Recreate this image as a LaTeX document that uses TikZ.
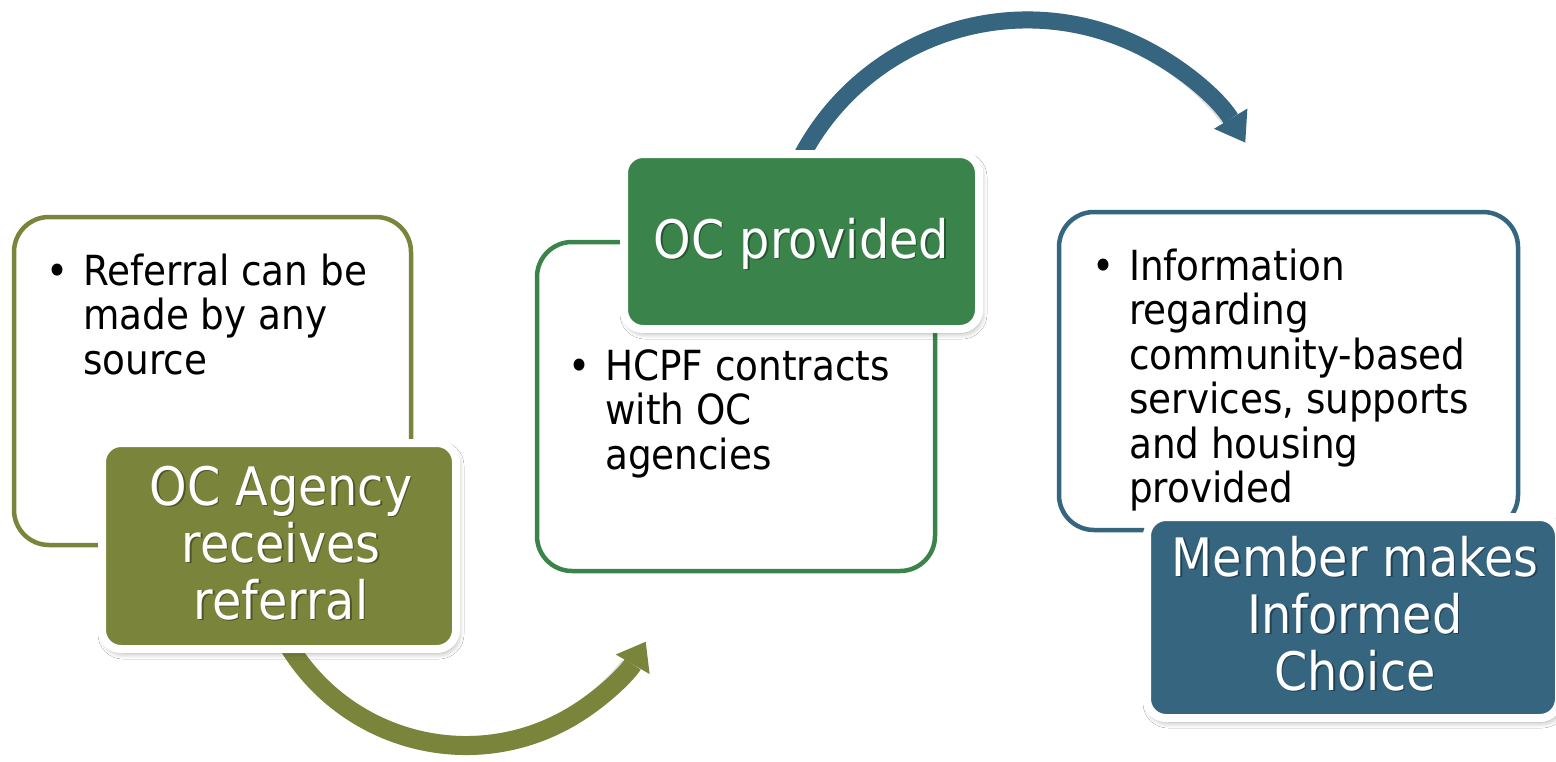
\documentclass[tikz,border=0pt]{standalone}
\usepackage{fontspec}
\setmainfont{DejaVu Sans Condensed}
\usetikzlibrary{arrows.meta,shadows.blur}

\definecolor{ocOlive}{HTML}{7B843B}
\definecolor{ocGreen}{HTML}{3A844C}
\definecolor{ocBlue}{HTML}{35657F}

% stacked lines: left aligned with a bullet column, or centred
\newcommand\ocleft[1]{\vtop{\halign{##\hfil&##\hfil\cr#1\crcr}}}
\newcommand\occenter[1]{\vtop{\halign{\hfil##\hfil\cr#1\crcr}}}
\newcommand\ocdot{\makebox[37pt][l]{•}}

\begin{document}
\begin{tikzpicture}[x=1pt,y=1pt,
  card/.style={draw, line width=4.5pt, fill=white, rounded corners=35pt, inner sep=0pt},
  tag/.style={draw=white, line width=8pt, rounded corners=19pt, inner sep=0pt,
    blur shadow={shadow xshift=2pt, shadow yshift=-4pt, shadow blur radius=6pt,
                 shadow opacity=35, shadow blur steps=8}},
  bodytext/.style={anchor=base west, inner sep=0pt, font=\fontsize{41.5}{44.5}\selectfont},
  tagtext/.style={anchor=base, inner sep=0pt, text=white, font=\fontsize{53}{57}\selectfont},
  tagshade/.style={tagtext, text=black, text opacity=0.35, xshift=1.5pt, yshift=-1.5pt},
  flowshade/.style={draw=black, draw opacity=0.12, xshift=2pt, yshift=-3pt}
]
\useasboundingbox (0,0) rectangle (1556,-761);
\fill[white] (0,0) rectangle (1556,-761);

% centres of the two curved arrows
\coordinate (oc1) at (466,-538);
\coordinate (oc2) at (1027.3,-275.1);

% curved arrows (drawn first, they run underneath the tags)
\draw[flowshade, line width=19pt] ([shift={(210:207.5)}]oc1) arc[start angle=210, end angle=322, radius=207.5];
\draw[ocOlive, line width=19pt, -{Triangle[length=26pt,width=39pt,line width=0pt]}]
  ([shift={(210:207.5)}]oc1) arc[start angle=210, end angle=330, radius=207.5];

\draw[flowshade, line width=17pt] ([shift={(156:255.1)}]oc2) arc[start angle=156, end angle=38, radius=255.1];
\draw[ocBlue, line width=17pt, -{Triangle[length=28pt,width=39pt,line width=0pt]}]
  ([shift={(156:255.1)}]oc2) arc[start angle=156, end angle=31.3, radius=255.1];

% white cards
\node[card, draw=ocOlive, minimum width=397pt, minimum height=328pt] (b1) at (212.5,-381) {};
\node[card, draw=ocGreen, minimum width=398pt, minimum height=329pt] (b2) at (736,-406.5) {};
\node[card, draw=ocBlue,  minimum width=459pt, minimum height=318pt] (b3) at (1288.5,-371) {};

% card texts
\node[bodytext] (b1txt) at (46,-285)
  {\ocleft{\ocdot&Referral can be\cr&made by any\cr&source}};
\node[bodytext] (b2txt) at (568,-380)
  {\ocleft{\ocdot&HCPF contracts\cr&with OC\cr&agencies}};
\node[bodytext] (b3txt) at (1092,-280)
  {\ocleft{\ocdot&Information\cr&regarding\cr&community-based\cr&services, supports\cr&and housing\cr&provided}};

% coloured tags
\node[tag, fill=ocOlive, minimum width=354pt, minimum height=206pt] (t1) at (279,-546) {};
\node[tag, fill=ocGreen, minimum width=355pt, minimum height=175pt] (t2) at (801.5,-241.5) {};
\node[tag, fill=ocBlue,  minimum width=412pt, minimum height=201pt] (t3) at (1353,-617.5) {};

% tag texts with a soft shadow
\node[tagshade] (t1sh) at (281,-505) {\occenter{OC Agency\cr receives\cr referral}};
\node[tagtext]  (t1txt) at (281,-505) {\occenter{OC Agency\cr receives\cr referral}};
\node[tagshade] (t2sh) at (801.5,-258) {\occenter{OC provided}};
\node[tagtext]  (t2txt) at (801.5,-258) {\occenter{OC provided}};
\node[tagshade] (t3sh) at (1355,-576) {\occenter{Member makes\cr Informed\cr Choice}};
\node[tagtext]  (t3txt) at (1355,-576) {\occenter{Member makes\cr Informed\cr Choice}};
\end{tikzpicture}
\end{document}
